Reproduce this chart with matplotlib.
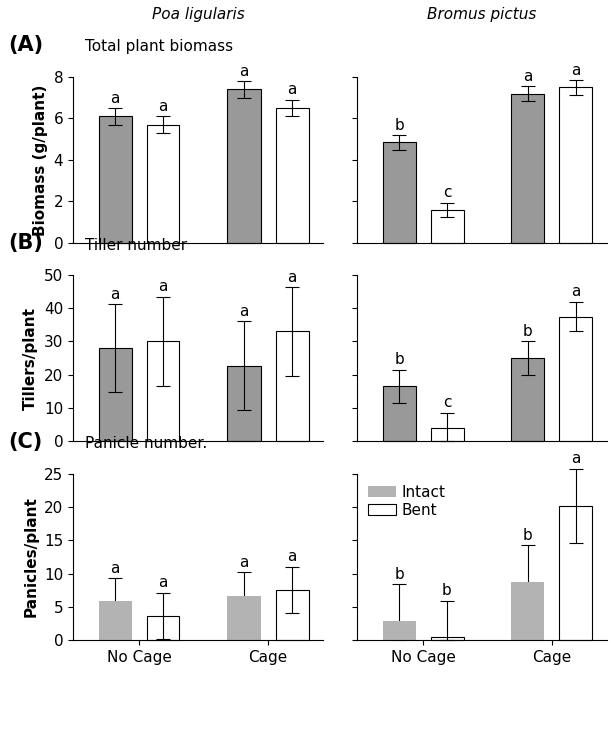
import numpy as np
import matplotlib.pyplot as plt

groups = ['No Cage', 'Cage']
species = ['Poa ligularis', 'Bromus pictus']

bio_mean = [[6.1, 5.7, 7.4, 6.5], [4.85, 1.6, 7.2, 7.5]]
bio_err = [[0.4, 0.4, 0.4, 0.4], [0.35, 0.35, 0.35, 0.35]]
bio_let = [['a', 'a', 'a', 'a'], ['b', 'c', 'a', 'a']]

til_mean = [[28, 30, 22.7, 33], [16.5, 4, 25, 37.5]]
til_err = [[13.2, 13.5, 13.3, 13.3], [5, 4.5, 5, 4.5]]
til_let = [['a', 'a', 'a', 'a'], ['b', 'c', 'b', 'a']]

pan_mean = [[5.8, 3.6, 6.7, 7.5], [2.8, 0.4, 8.8, 20.2]]
pan_err = [[3.5, 3.5, 3.5, 3.5], [5.6, 5.5, 5.5, 5.6]]
pan_let = [['a', 'a', 'a', 'a'], ['b', 'b', 'b', 'a']]

rows = [
    ('(A)', 'Total plant biomass', 'Biomass (g/plant)', bio_mean, bio_err, bio_let, 8, 2, 243),
    ('(B)', 'Tiller number', 'Tillers/plant', til_mean, til_err, til_let, 50, 10, 441),
    ('(C)', 'Panicle number.', 'Panicles/plant', pan_mean, pan_err, pan_let, 25, 5, 640),
]

x = np.array([0.84, 1.8, 3.42, 4.38])
W, H = 611, 729
fig = plt.figure(figsize=(W/100, H/100), dpi=100)
lefts = [73, 357]
w = 250
ah = 166
for r, (lab, title, ylab, mean, err, let, ymax, step, y0) in enumerate(rows):
    top = y0 - ah
    for c in range(2):
        ax = fig.add_axes([lefts[c]/W, 1 - y0/H, w/W, ah/H])
        gray = '#b3b3b3' if r == 2 else '#999999'
        cols = [gray, 'white', gray, 'white']
        edge = 'none' if r == 2 else 'black'
        edges = [edge, 'black', edge, 'black']
        for i in range(4):
            m, e = mean[c][i], err[c][i]
            ax.bar(x[i], m, width=0.66, color=cols[i], edgecolor=edges[i], linewidth=0.8,
                   label=(['Intact', 'Bent'][i] if i < 2 else None), zorder=2 if r == 2 and i % 2 == 0 else 1,
                   clip_on=False)
            ax.errorbar(x[i], m, yerr=[[min(e, m)], [e]], color='black', capsize=5, lw=0.8, capthick=0.8,
                        zorder=1, clip_on=False)
            ax.text(x[i], m + e + ymax*0.015, let[c][i], ha='center', va='bottom',
                    fontsize=11, clip_on=False)
        ax.set_xlim(0, 5)
        ax.set_ylim(0, ymax)
        ax.set_yticks(np.arange(0, ymax + 0.1, step))
        ax.spines['top'].set_visible(False)
        ax.spines['right'].set_visible(False)
        ax.tick_params(labelsize=11)
        if r == 2:
            ax.set_xticks([(x[0]+x[1])/2, (x[2]+x[3])/2])
            ax.set_xticklabels(groups)
        else:
            ax.set_xticks([])
        if c == 1:
            ax.set_yticklabels([])
        else:
            ax.set_ylabel(ylab, fontsize=11, fontweight='bold')
        if r == 2 and c == 1:
            ax.legend(loc='upper left', frameon=False, fontsize=11, handlelength=1.8,
                      borderaxespad=0.0, handletextpad=0.4, labelspacing=0.2,
                      bbox_to_anchor=(0.02, 0.97))
    fig.text(8/W, 1 - (top - 32)/H, lab, fontsize=15, fontweight='bold', va='center')
    fig.text(85/W, 1 - (top - 30)/H, title, fontsize=11, va='center')
for c in range(2):
    fig.text((lefts[c] + w/2)/W, 1 - 15/H, species[c], fontstyle='italic', fontsize=11, ha='center', va='center')
fig.savefig('out.png')
